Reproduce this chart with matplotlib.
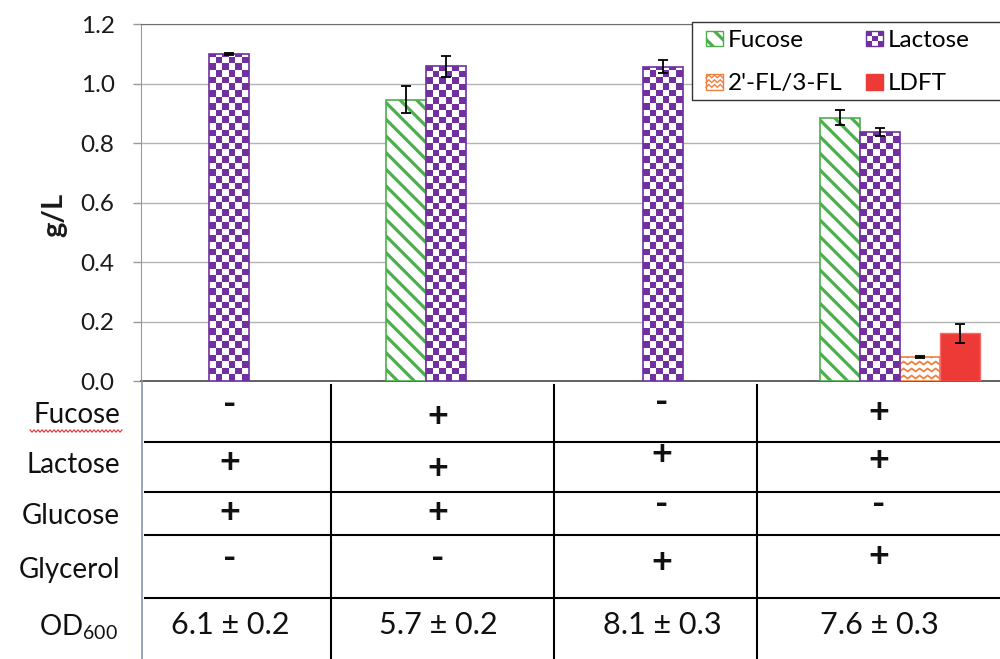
import numpy as np
import matplotlib
matplotlib.use("Agg")
import matplotlib.pyplot as plt
from matplotlib.patches import Rectangle
from matplotlib.lines import Line2D
from matplotlib.legend_handler import HandlerBase
from matplotlib.colors import ListedColormap

plt.rcParams["font.family"] = ["Lato", "DejaVu Sans"]
plt.rcParams["hatch.linewidth"] = 2.3
plt.rcParams["mathtext.fontset"] = "custom"
plt.rcParams["mathtext.rm"] = "Lato"
plt.rcParams["mathtext.it"] = "Lato:italic"

# ---- measured concentrations (g/L) per culture condition ----
series_names = ["Fucose", "Lactose", "2'-FL/3-FL", "LDFT"]
fucose = [0.0, 0.945, 0.0, 0.885]
fucose_err = [0.0, 0.045, 0.0, 0.025]
lactose = [1.100, 1.058, 1.056, 0.838]
lactose_err = [0.004, 0.035, 0.022, 0.014]
fl = [0.0, 0.0, 0.0, 0.080]
fl_err = [0.0, 0.0, 0.0, 0.003]
ldft = [0.0, 0.0, 0.0, 0.160]
ldft_err = [0.0, 0.0, 0.0, 0.033]

# ---- medium composition table ----
row_labels = ["Fucose", "Lactose", "Glucose", "Glycerol"]
fucose_added = ["-", "+", "-", "+"]
lactose_added = ["+", "+", "+", "+"]
glucose_added = ["+", "+", "-", "-"]
glycerol_added = ["-", "-", "+", "+"]
od600 = ["6.1 ± 0.2", "5.7 ± 0.2", "8.1 ± 0.3", "7.6 ± 0.3"]
y_ticks = [0.0, 0.2, 0.4, 0.6, 0.8, 1.0, 1.2]

GREEN = "#4DAE4D"
PURPLE = "#7030A0"
ORANGE = "#F08040"
RED = "#EE3A36"
INK = "#111111"

W, H = 1000, 659
fig = plt.figure(figsize=(W / 100, H / 100), dpi=100)
ax = fig.add_axes([0.141, 0.42185, 0.867, 0.54173])
ax.set_xlim(-0.5, 3.5)
ax.set_ylim(0, 1.2)

n = len(lactose)
x = np.arange(n)
bw = 0.1845
offsets = [-1.5 * bw, -0.5 * bw, 0.5 * bw, 1.5 * bw]


def nonzero(vals):
    return [i for i, v in enumerate(vals) if v > 0]


def px_per_unit():
    p0 = ax.transData.transform((0, 0))
    p1 = ax.transData.transform((1, 1))
    return p1[0] - p0[0], p1[1] - p0[1]


# Fucose: green diagonal stripes
idx = nonzero(fucose)
fuc_bars = ax.bar(x[idx] + offsets[0], [fucose[i] for i in idx], bw,
                  facecolor="white", edgecolor=GREEN, hatch="\\\\",
                  linewidth=1.2, zorder=3)

# Lactose: purple checkerboard, drawn as clipped image inside each bar
idx = nonzero(lactose)
lac_bars = ax.bar(x[idx] + offsets[1], [lactose[i] for i in idx], bw,
                  facecolor="none", edgecolor=PURPLE, linewidth=1.2,
                  zorder=4)
sx, sy = px_per_unit()
cell = 6.6
checker_cmap = ListedColormap(["white", PURPLE])
for rect in lac_bars.patches:
    x0, w, h = rect.get_x(), rect.get_width(), rect.get_height()
    nx = int(np.ceil(w * sx / cell))
    ny = int(np.ceil(h * sy / cell))
    cx, cy = cell / sx, cell / sy
    board = (np.add.outer(np.arange(ny), np.arange(nx)) % 2).astype(float)
    im = ax.imshow(board, cmap=checker_cmap, vmin=0, vmax=1,
                   extent=(x0, x0 + nx * cx, 0, ny * cy), origin="lower",
                   interpolation="nearest", aspect="auto", zorder=3)
    im.set_clip_path(rect)

# 2'-FL/3-FL: orange zigzag lines
idx = nonzero(fl)
fl_bars = ax.bar(x[idx] + offsets[2], [fl[i] for i in idx], bw,
                 facecolor="white", edgecolor=ORANGE, linewidth=1.2,
                 zorder=3)
period, amp, gap = 8.0, 3.0, 7.0
for rect in fl_bars.patches:
    x0, w, h = rect.get_x(), rect.get_width(), rect.get_height()
    npts = int(w * sx / (period / 2)) + 3
    xs = x0 + np.arange(npts) * (period / 2) / sx
    for k in range(int(h * sy / gap) + 2):
        base = (k * gap + 2.5) / sy
        ys = base + np.where(np.arange(npts) % 2 == 0, 0, amp) / sy
        ln, = ax.plot(xs, ys, color=ORANGE, lw=1.3, zorder=3.5)
        ln.set_clip_path(rect)

# LDFT: solid red
idx = nonzero(ldft)
ldft_bars = ax.bar(x[idx] + offsets[3], [ldft[i] for i in idx], bw,
                   facecolor=RED, edgecolor="#F26B67", linewidth=1.0,
                   zorder=3)

# error bars
for vals, errs, off in [(fucose, fucose_err, offsets[0]),
                        (lactose, lactose_err, offsets[1]),
                        (fl, fl_err, offsets[2]),
                        (ldft, ldft_err, offsets[3])]:
    idx = nonzero(vals)
    ax.errorbar(x[idx] + off, [vals[i] for i in idx],
                yerr=[errs[i] for i in idx], fmt="none", ecolor="black",
                elinewidth=1.3, capsize=3.8, capthick=1.3, zorder=6)

# axes styling
ax.set_yticks(y_ticks)
ax.set_yticklabels([f"{t:.1f}" for t in y_ticks], fontsize=17.5,
                   color="#1a1a1a")
ax.set_xticks([])
ax.tick_params(axis="y", direction="out", length=6, width=1,
               color="#999999", pad=13)
ax.grid(axis="y", color="#b3b3b3", linewidth=1.0, zorder=0)
ax.set_axisbelow(True)
ax.spines["right"].set_visible(False)
ax.spines["top"].set_color("#6e6e6e")
ax.spines["left"].set_color("#999999")
ax.spines["bottom"].set_color("#555555")
ax.spines["bottom"].set_linewidth(1.3)

fig.text(54 / W, 1 - 215 / H, "g/L", rotation=90, fontsize=21,
         fontweight="bold", ha="center", va="center", color="#1a1a1a")


# ---- legend with custom pattern swatches ----
class PatternHandler(HandlerBase):
    def __init__(self, kind):
        super().__init__()
        self.kind = kind

    def create_artists(self, legend, orig, xd, yd, width, height,
                       fontsize, trans):
        x0, y0 = -xd, -yd
        arts = []
        if self.kind == "fucose":
            arts.append(Rectangle((x0, y0), width, height, facecolor="white",
                                  edgecolor=GREEN, hatch="\\\\", lw=1.0,
                                  transform=trans))
        elif self.kind == "lactose":
            arts.append(Rectangle((x0, y0), width, height, facecolor="white",
                                  edgecolor=PURPLE, lw=1.0, transform=trans))
            m = 3
            for i in range(m):
                for j in range(m):
                    if (i + j) % 2 == 0:
                        arts.append(Rectangle(
                            (x0 + j * width / m, y0 + i * height / m),
                            width / m, height / m, facecolor=PURPLE,
                            edgecolor="none", transform=trans))
        elif self.kind == "fl":
            arts.append(Rectangle((x0, y0), width, height, facecolor="white",
                                  edgecolor=ORANGE, lw=1.0, transform=trans))
            for k in range(3):
                xs = np.linspace(x0, x0 + width, 7)
                base = y0 + height * (0.15 + 0.3 * k)
                ys = base + np.where(np.arange(7) % 2 == 0, 0,
                                     height * 0.18)
                arts.append(Line2D(xs, ys, color=ORANGE, lw=1.0,
                                   transform=trans))
        else:
            arts.append(Rectangle((x0, y0), width, height, facecolor=RED,
                                  edgecolor=RED, lw=1.0, transform=trans))
        return arts


# legend frame runs past the right edge of the figure
fig.add_artist(Rectangle((692 / W, 1 - 100 / H), 0.4, 78 / H,
                         transform=fig.transFigure, facecolor="white",
                         edgecolor="#333333", lw=1.0, zorder=4))

handles = [fuc_bars, fl_bars, lac_bars, ldft_bars]
labels = [series_names[0], series_names[2], series_names[1], series_names[3]]
leg = fig.legend(handles, labels, ncol=2, loc="upper left",
                 bbox_to_anchor=(706 / W, 1 - 30 / H), borderaxespad=0,
                 borderpad=0, fontsize=17.5, frameon=False,
                 handlelength=0.7, handleheight=0.62, handletextpad=0.2,
                 labelspacing=0.92, columnspacing=0.98,
                 handler_map={fuc_bars: PatternHandler("fucose"),
                              lac_bars: PatternHandler("lactose"),
                              fl_bars: PatternHandler("fl"),
                              ldft_bars: PatternHandler("ldft")})
leg.set_zorder(10)


# ---- composition table below the chart (figure pixel coordinates) ----
def fx(px):
    return np.asarray(px) / W


def fy(py):
    return 1 - np.asarray(py) / H


def hline(y, x0, x1, color="black", lw=1.5):
    fig.add_artist(Line2D([fx(x0), fx(x1)], [fy(y), fy(y)], color=color,
                          lw=lw, transform=fig.transFigure))


def vline(xp, y0, y1, color="black", lw=1.5):
    fig.add_artist(Line2D([fx(xp), fx(xp)], [fy(y0), fy(y1)], color=color,
                          lw=lw, transform=fig.transFigure))


vline(142, 381, H, color="#8a94aa", lw=1.2)
for xp in [331, 554, 757]:
    vline(xp, 385, H)
for yp in [442, 492, 535, 598]:
    hline(yp, 145, W)

label_y = [415, 465, 516, 570]
for lab, yp in zip(row_labels, label_y):
    fig.text(fx(120), fy(yp), lab, fontsize=20, ha="right", va="center",
             color=INK)
fig.text(fx(118), fy(627), "OD$_{600}$", fontsize=20, ha="right",
         va="center", color=INK)

# red wavy spell-check underline under the first row label
wx = np.arange(30, 123, 2.0)
wy = 431 + np.where(np.arange(len(wx)) % 2 == 0, -1.2, 1.2)
fig.add_artist(Line2D(fx(wx), fy(wy), color="#E03030", lw=0.8,
                      transform=fig.transFigure))

col_x = [230, 438, 662, 879]
cell_y = [[405, 417, 403, 412],
          [462, 468, 455, 460],
          [512, 512, 505, 505],
          [558, 558, 563, 557]]
for r, marks in enumerate([fucose_added, lactose_added, glucose_added,
                           glycerol_added]):
    for c, m in enumerate(marks):
        fig.text(fx(col_x[c]), fy(cell_y[r][c]), m, fontsize=26,
                 fontweight="bold", ha="center", va="center", color=INK)
for c, s in enumerate(od600):
    fig.text(fx(col_x[c]), fy(625), s, fontsize=22, ha="center",
             va="center", color=INK)

fig.savefig("out.png", dpi=100)
